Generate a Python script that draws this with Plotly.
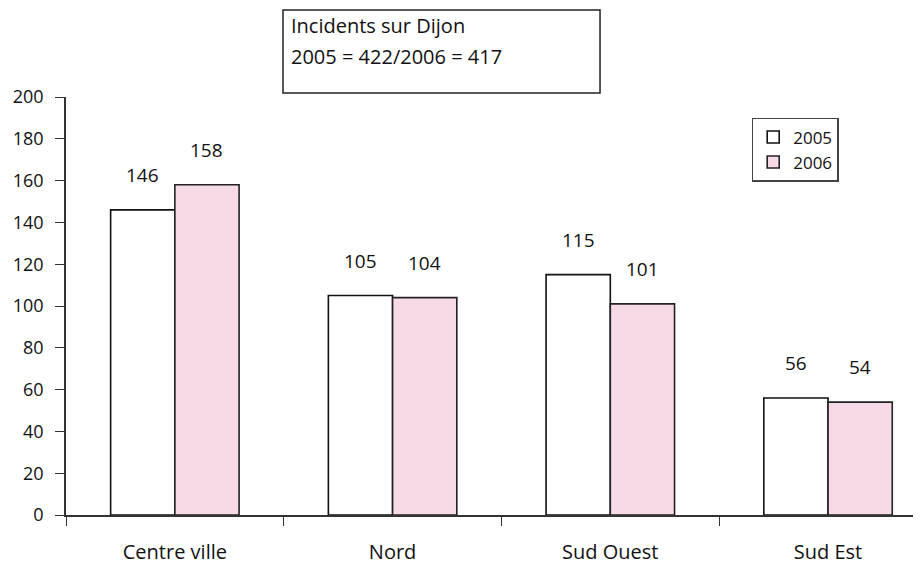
import plotly.graph_objects as go

categories = ["Centre ville", "Nord", "Sud Ouest", "Sud Est"]
values_2005 = [146, 105, 115, 56]
values_2006 = [158, 104, 101, 54]
series_names = ["2005", "2006"]
y_ticks = [0, 20, 40, 60, 80, 100, 120, 140, 160, 180, 200]
title_lines = ["Incidents sur Dijon", "2005 = 422/2006 = 417"]

FONT = "Open Sans"
TXT = "#111111"
bargap = 0.41
half = (1 - bargap) / 4  # centre offset of each bar within group

fig = go.Figure()
fig.add_trace(go.Bar(
    name=series_names[0], x=categories, y=values_2005,
    marker=dict(color="white", line=dict(color="#111111", width=1.6)),
))
fig.add_trace(go.Bar(
    name=series_names[1], x=categories, y=values_2006,
    marker=dict(color="#f8d9e8", line=dict(color="#222222", width=1.6)),
))

annotations = []
for i, v in enumerate(values_2005):
    annotations.append(dict(x=i - half, y=v, xref="x", yref="y", text=str(v),
                            showarrow=False, yshift=35, font=dict(size=19, color=TXT, family=FONT)))
for i, v in enumerate(values_2006):
    annotations.append(dict(x=i + half, y=v, xref="x", yref="y", text=str(v),
                            showarrow=False, yshift=35, font=dict(size=19, color=TXT, family=FONT)))

# title box text
annotations.append(dict(xref="paper", yref="paper", x=0.2608, y=1.1722, xanchor="left", yanchor="middle",
                        text=title_lines[0], showarrow=False, font=dict(size=20, color=TXT, family=FONT)))
annotations.append(dict(xref="paper", yref="paper", x=0.2608, y=1.0957, xanchor="left", yanchor="middle",
                        text=title_lines[1], showarrow=False, font=dict(size=20, color=TXT, family=FONT)))

fig.update_layout(
    width=913, height=556,
    margin=dict(l=58, r=0, t=89, b=49),
    paper_bgcolor="white", plot_bgcolor="white",
    barmode="group", bargap=bargap, bargroupgap=0,
    font=dict(family=FONT, size=18, color=TXT),
    showlegend=True,
    legend=dict(x=0.802, y=0.95, xanchor="left", yanchor="top",
                bordercolor="#444444", borderwidth=1.5, bgcolor="white",
                font=dict(size=17, color=TXT, family=FONT),
                itemwidth=30, tracegroupgap=0),
    annotations=annotations,
    shapes=[dict(type="rect", xref="paper", yref="paper",
                 x0=0.2538, x1=0.6246, y0=1.0096, y1=1.2081,
                 line=dict(color="#222222", width=1.5), fillcolor="white", layer="below")],
)
fig.update_xaxes(
    type="category", range=[-0.5, 3.427],
    showline=True, linecolor="#333333", linewidth=1.5,
    ticks="outside", tickson="boundaries", ticklen=9, tickcolor="#333333",
    ticklabelstandoff=18, showgrid=False, zeroline=False,
    tickfont=dict(size=20, color=TXT, family=FONT),
)
fig.update_yaxes(
    range=[0, 200], tickvals=y_ticks,
    showline=True, linecolor="#333333", linewidth=1.5,
    ticks="outside", ticklen=9, tickcolor="#333333",
    ticklabelstandoff=8, showgrid=False, zeroline=False,
    tickfont=dict(size=18, color=TXT, family=FONT),
)

fig.write_html("out.html")
